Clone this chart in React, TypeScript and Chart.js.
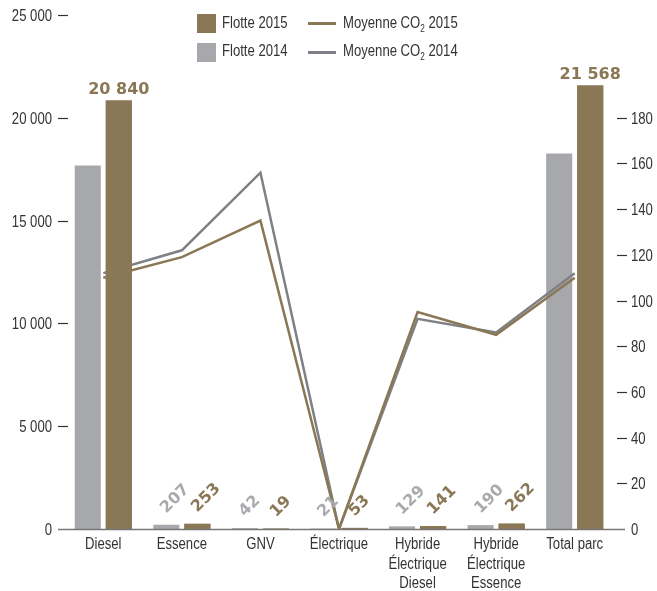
import React, { useEffect, useRef } from "react";
import { Chart, registerables } from "chart.js";

Chart.register(...registerables);

// Vehicle fleet by fuel type (left axis) and average CO2 emissions (right axis)
const categories: string[][] = [
  ["Diesel"],
  ["Essence"],
  ["GNV"],
  ["Électrique"],
  ["Hybride", "Électrique", "Diesel"],
  ["Hybride", "Électrique", "Essence"],
  ["Total parc"],
];
const fleet2014 = [17680, 207, 42, 21, 129, 190, 18269];
const fleet2015 = [20840, 253, 19, 53, 141, 262, 21568];
const co2_2014 = [112, 122, 156, 0, 92, 86, 112];
const co2_2015 = [110, 119, 135, 0, 95, 85, 110];
const fleetTicks = [0, 5000, 10000, 15000, 20000, 25000];
const co2Ticks = [0, 20, 40, 60, 80, 100, 120, 140, 160, 180];

const BROWN = "#8a7755";
const GREY_BAR = "#a7a8ac";
const GREY_LINE = "#7f8085";
const GREY_LABEL = "#a9aaae";
const TEXT = "#333333";
const SANS = "'Liberation Sans', Arial, sans-serif";
const BOLD = "'DejaVu Sans', 'Liberation Sans', sans-serif";
const SQUEEZE = 0.82; // horizontal compression for a condensed look

const formatThousands = (v: number) =>
  String(v).replace(/\B(?=(\d{3})+(?!\d))/g, " ");

// Draw text with a horizontally condensed face
function narrowText(
  ctx: CanvasRenderingContext2D,
  text: string,
  x: number,
  y: number,
  align: CanvasTextAlign
) {
  ctx.save();
  ctx.translate(x, y);
  ctx.scale(SQUEEZE, 1);
  ctx.font = `16px ${SANS}`;
  ctx.fillStyle = TEXT;
  ctx.textAlign = align;
  ctx.textBaseline = "alphabetic";
  ctx.fillText(text, 0, 0);
  ctx.restore();
}

const decorPlugin = {
  id: "decor",
  afterDatasetsDraw(chart: any) {
    const ctx = chart.ctx as CanvasRenderingContext2D;
    const { chartArea } = chart;
    // 2015 bars sit above the CO2 lines
    chart.getDatasetMeta(1).data.forEach((el: any) => el.draw(ctx));

    const xS = chart.scales.x;
    const yL = chart.scales.y;
    const yR = chart.scales.y1;
    ctx.save();
    ctx.strokeStyle = TEXT;
    ctx.lineWidth = 1.2;
    fleetTicks.forEach((v) => {
      const py = Math.round(yL.getPixelForValue(v)) + 0.5;
      if (v !== 0) {
        ctx.beginPath();
        ctx.moveTo(chartArea.left - 6, py);
        ctx.lineTo(chartArea.left + 4, py);
        ctx.stroke();
      }
      narrowText(ctx, formatThousands(v), chartArea.left - 12, py + 5.7, "right");
    });
    co2Ticks.forEach((v) => {
      const py = Math.round(yR.getPixelForValue(v)) + 0.5;
      if (v !== 0) {
        ctx.beginPath();
        ctx.moveTo(chartArea.right + 3, py);
        ctx.lineTo(chartArea.right + 13, py);
        ctx.stroke();
      }
      narrowText(ctx, String(v), chartArea.right + 17, py + 5.7, "left");
    });
    categories.forEach((lines, i) => {
      const px = xS.getPixelForValue(i);
      lines.forEach((line, j) => {
        narrowText(ctx, line, px, chartArea.bottom + 20 + j * 19.5, "center");
      });
    });
    // baseline
    const y0 = Math.round(yL.getPixelForValue(0)) + 0.5;
    ctx.strokeStyle = "#777777";
    ctx.lineWidth = 1.5;
    ctx.beginPath();
    ctx.moveTo(chartArea.left - 6, y0);
    ctx.lineTo(chartArea.right + 11, y0);
    ctx.stroke();
    ctx.restore();
  },
  afterDraw(chart: any) {
    const ctx = chart.ctx as CanvasRenderingContext2D;
    const series = [
      { meta: chart.getDatasetMeta(0), values: fleet2014, color: GREY_LABEL, big: false },
      { meta: chart.getDatasetMeta(1), values: fleet2015, color: BROWN, big: true },
    ];
    ctx.save();
    series.forEach(({ meta, values, color, big }) => {
      meta.data.forEach((el: any, i: number) => {
        const v = values[i];
        const text = formatThousands(v);
        ctx.fillStyle = color;
        ctx.font = `bold 16px ${BOLD}`;
        if (v >= 10000) {
          if (!big) return;
          ctx.textAlign = "center";
          ctx.textBaseline = "alphabetic";
          ctx.fillText(text, el.x, el.y - 7);
        } else {
          ctx.save();
          ctx.translate(el.x - 3, el.y - 14);
          ctx.rotate(-Math.PI / 4);
          ctx.textAlign = "left";
          ctx.textBaseline = "middle";
          ctx.fillText(text, 0, 0);
          ctx.restore();
        }
      });
    });
    ctx.restore();
  },
};

function FleetChart() {
  const ref = useRef<HTMLCanvasElement | null>(null);

  useEffect(() => {
    if (!ref.current) return;
    const hiddenTicks = { display: false };
    const chart = new Chart(ref.current, {
      type: "bar",
      data: {
        labels: categories,
        datasets: [
          {
            label: "Flotte 2014",
            data: fleet2014,
            backgroundColor: GREY_BAR,
            yAxisID: "y",
            order: 0,
            categoryPercentage: 0.79,
            barPercentage: 0.84,
          },
          {
            label: "Flotte 2015",
            data: fleet2015,
            backgroundColor: BROWN,
            yAxisID: "y",
            order: 0,
            categoryPercentage: 0.79,
            barPercentage: 0.84,
          },
          {
            type: "line",
            label: "Moyenne CO2 2014",
            data: co2_2014,
            borderColor: GREY_LINE,
            borderWidth: 2.5,
            pointRadius: 0,
            tension: 0,
            yAxisID: "y1",
            order: -1,
          },
          {
            type: "line",
            label: "Moyenne CO2 2015",
            data: co2_2015,
            borderColor: BROWN,
            borderWidth: 2.5,
            pointRadius: 0,
            tension: 0,
            yAxisID: "y1",
            order: -2,
          },
        ] as any,
      },
      options: {
        responsive: false,
        animation: false,
        layout: { padding: { top: 15, left: 0, right: 0, bottom: 0 } },
        plugins: {
          legend: { display: false },
          tooltip: { enabled: false },
        },
        scales: {
          x: {
            grid: { display: false, drawTicks: false },
            border: { display: false },
            ticks: hiddenTicks,
            afterFit: (s: any) => {
              s.height = 62;
            },
          },
          y: {
            position: "left",
            min: 0,
            max: 25000,
            grid: { display: false, drawTicks: false },
            border: { display: false },
            ticks: hiddenTicks,
            afterFit: (s: any) => {
              s.width = 64;
            },
          },
          y1: {
            position: "right",
            min: 0,
            max: 225,
            grid: { display: false, drawTicks: false },
            border: { display: false },
            ticks: hiddenTicks,
            afterFit: (s: any) => {
              s.width = 43;
            },
          },
        },
      } as any,
      plugins: [decorPlugin],
    });
    return () => chart.destroy();
  }, []);

  return <canvas ref={ref} width={657} height={591} style={{ display: "block" }} />;
}

const legendText: React.CSSProperties = {
  position: "absolute",
  fontFamily: SANS,
  fontSize: 16,
  color: TEXT,
  lineHeight: "18px",
  whiteSpace: "nowrap",
  transform: `scaleX(${SQUEEZE})`,
  transformOrigin: "left center",
};

function Legend() {
  const rows = [
    { top: 14, text: 14, bar: BROWN, line: BROWN, year: "2015" },
    { top: 43, text: 42, bar: GREY_BAR, line: GREY_LINE, year: "2014" },
  ];
  return (
    <>
      {rows.map((r) => (
        <React.Fragment key={r.year}>
          <div style={{ position: "absolute", left: 197, top: r.top, width: 19, height: 19, background: r.bar }} />
          <div style={{ ...legendText, left: 222, top: r.text }}>Flotte {r.year}</div>
          <div style={{ position: "absolute", left: 308, top: r.top + 8, width: 28, height: 3, background: r.line }} />
          <div style={{ ...legendText, left: 343, top: r.text }}>
            Moyenne CO<sub style={{ fontSize: 10, verticalAlign: "-4px", lineHeight: 0 }}>2</sub> {r.year}
          </div>
        </React.Fragment>
      ))}
    </>
  );
}

export default function App() {
  return (
    <div style={{ position: "absolute", left: 0, top: 0, width: 657, height: 591, background: "#ffffff" }}>
      <FleetChart />
      <Legend />
    </div>
  );
}
